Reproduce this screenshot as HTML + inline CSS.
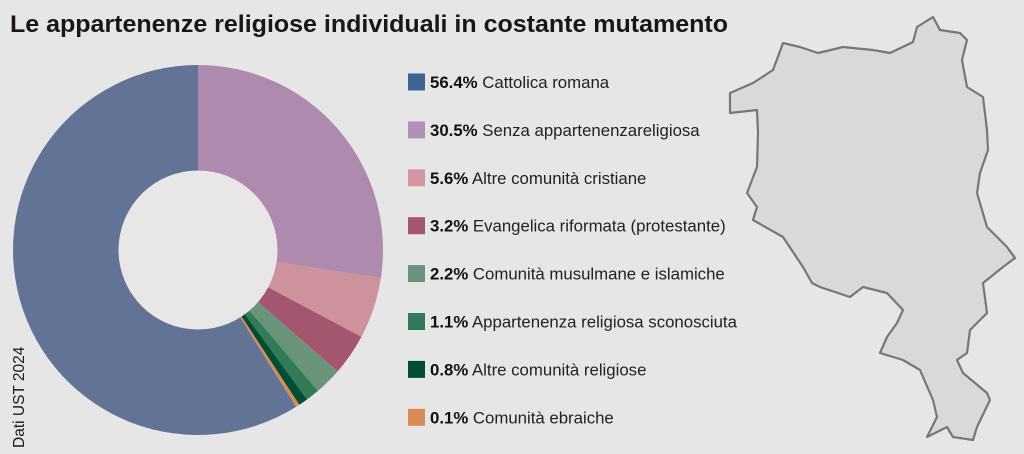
<!DOCTYPE html>
<html><head><meta charset="utf-8"><style>
html,body{margin:0;padding:0;background:#e6e6e6;}
body{width:1024px;height:454px;overflow:hidden;position:relative;font-family:"Liberation Sans",sans-serif;}
</style></head><body>
<svg id="s" width="1024" height="454" style="position:absolute;left:0;top:0" font-family="Liberation Sans, sans-serif">
<rect width="1024" height="454" fill="#e6e6e6"/>
<text x="10" y="32" font-size="24" font-weight="bold" fill="#1a1612" textLength="718" lengthAdjust="spacingAndGlyphs">Le appartenenze religiose individuali in costante mutamento</text>
<g id="donut"></g>
<circle cx="198" cy="250" r="79.5" fill="#e8e6e7"/>
<text transform="translate(24,448) rotate(-90)" font-size="15.5" fill="#1a1a1a">Dati UST 2024</text>
<path d="M783,43 L800,47 L818,53 L843,47 L873,50 L890,53 L913,42 L917,27 L933,17 L940,30 L960,33 L967,40 L962,60 L967,87 L983,97 L987,130 L988,150 L980,173 L977,193 L987,227 L1007,247 L1015,258 L1003,267 L983,283 L987,313 L970,330 L967,353 L957,360 L963,373 L987,393 L990,400 L977,427 L973,440 L953,437 L947,427 L927,437 L937,417 L933,400 L920,370 L903,360 L880,353 L887,337 L897,323 L903,310 L887,293 L863,287 L850,297 L820,287 L812,283 L803,267 L783,237 L753,220 L757,207 L747,193 L757,167 L758,133 L757,110 L730,113 L730,93 L753,83 L773,70 Z" fill="#d9d9d9" stroke="#777" stroke-width="2.2" stroke-linejoin="round"/>
<g id="leg" font-size="16.8" fill="#222"></g>
</svg>
<script>
var cx=198,cy=250,R=185;
var segs=[[0,98.7,"#ae8bae"],[98.7,118,"#cd929b"],[118,131,"#a5566f"],[131,139.6,"#6a9479"],[139.6,143.9,"#327b59"],[143.9,146.8,"#004d33"],[146.8,148,"#d58b55"],[148,360,"#627396"]];
var g=document.getElementById("donut"),h="";
function pt(a){a=(a-90)*Math.PI/180;return (cx+R*Math.cos(a)).toFixed(2)+","+(cy+R*Math.sin(a)).toFixed(2);}
segs.forEach(function(s){var lg=(s[1]-s[0])>180?1:0;h+='<path d="M'+cx+','+cy+' L'+pt(s[0])+' A'+R+','+R+' 0 '+lg+' 1 '+pt(s[1])+' Z" fill="'+s[2]+'"/>';});
g.innerHTML=h;
var L=[["56.4%","Cattolica romana","#3c6592"],["30.5%","Senza appartenenzareligiosa","#b190b8"],["5.6%","Altre comunità cristiane","#d4959e"],["3.2%","Evangelica riformata (protestante)","#a5566f"],["2.2%","Comunità musulmane e islamiche","#6a9479"],["1.1%","Appartenenza religiosa sconosciuta","#327b59"],["0.8%","Altre comunità religiose","#004d33"],["0.1%","Comunità ebraiche","#dc8a55"]];
var lh="";
L.forEach(function(l,i){var y=82+i*47.9;lh+='<rect x="408" y="'+(y-8.5)+'" width="17" height="17" fill="'+l[2]+'"/><text x="430" y="'+(y+6)+'"><tspan font-weight="bold" fill="#111">'+l[0]+'</tspan> '+l[1]+'</text>';});
document.getElementById("leg").innerHTML=lh;
</script>
</body></html>
